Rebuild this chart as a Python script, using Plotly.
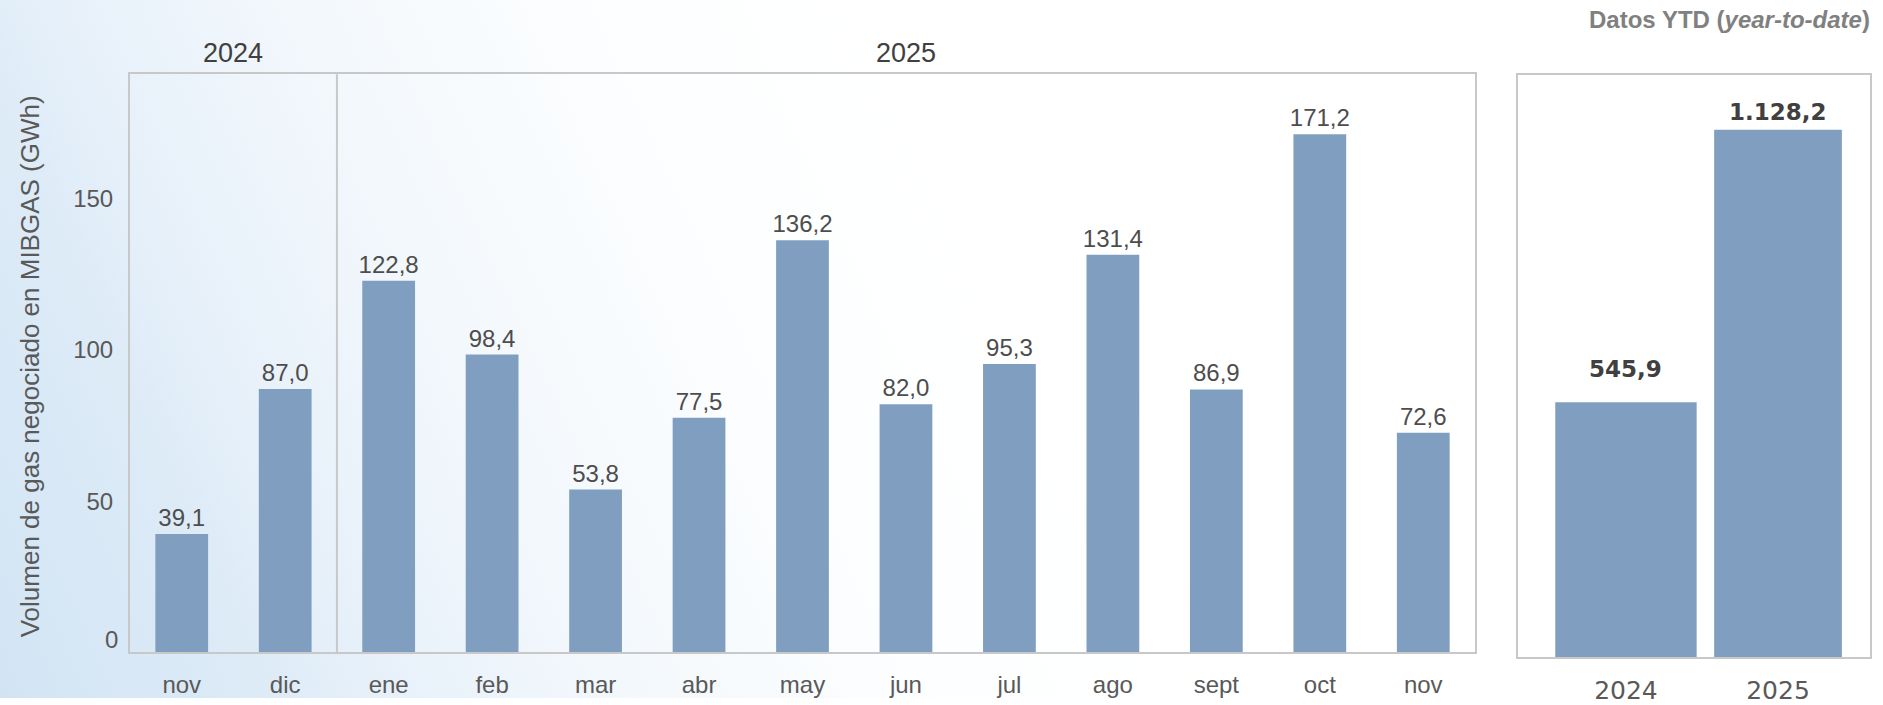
import base64
import plotly.graph_objects as go

# Monthly volume traded on MIBGAS (GWh)
months = ["nov", "dic", "ene", "feb", "mar", "abr", "may", "jun", "jul", "ago", "sept", "oct", "nov"]
month_values = [39.1, 87.0, 122.8, 98.4, 53.8, 77.5, 136.2, 82.0, 95.3, 131.4, 86.9, 171.2, 72.6]
year_groups = ["2024", "2025"]
year_group_centers = [0.5, 7]

# YTD totals
ytd_years = ["2024", "2025"]
ytd_values = [545.9, 1128.2]

y_ticks = [50, 100, 150]


def es_num(v):
    # spanish format: 1.128,2
    return f"{v:,.1f}".replace(",", "X").replace(".", ",").replace("X", ".")


W, H = 1883, 705
BAR = "#809fc0"
GRID = "#c8c8c8"
TXT = "#595959"
FONT = "Liberation Sans, Arial, sans-serif"
FONT2 = "DejaVu Sans, Verdana, sans-serif"

# background gradient (light blue bottom-left fading to white)
svg = f"""<svg xmlns='http://www.w3.org/2000/svg' width='{W}' height='{H}'>
<defs><linearGradient id='g' gradientUnits='userSpaceOnUse' x1='0' y1='{H}' x2='1100' y2='200'>
<stop offset='0' stop-color='#d2e4f4'/><stop offset='0.2' stop-color='#ddebf7'/>
<stop offset='0.3' stop-color='#e8f1fa'/><stop offset='0.47' stop-color='#f3f8fc'/>
<stop offset='0.7' stop-color='#fdfeff'/><stop offset='1' stop-color='#ffffff'/>
</linearGradient></defs><rect width='{W}' height='{H}' fill='url(#g)'/></svg>"""
bg_src = "data:image/svg+xml;base64," + base64.b64encode(svg.encode()).decode()

fig = go.Figure()

fig.add_trace(go.Bar(
    x=list(range(len(months))), y=month_values,
    marker=dict(color=BAR, line=dict(width=0)),
    width=0.51,
    text=[es_num(v) for v in month_values], textposition="outside",
    textfont=dict(family=FONT, size=24, color="#4d4d4d"),
    constraintext="none",
    cliponaxis=False, xaxis="x", yaxis="y", hoverinfo="skip",
))

fig.add_trace(go.Bar(
    x=[0, 1], y=ytd_values,
    marker=dict(color=BAR, line=dict(width=0)),
    width=[0.93, 0.84],
    xaxis="x2", yaxis="y2", hoverinfo="skip",
))

# main panel: 130..1475 px, 75..659 px
fig.update_layout(
    width=W, height=H,
    margin=dict(l=0, r=0, t=0, b=0),
    paper_bgcolor="white", plot_bgcolor="rgba(0,0,0,0)",
    showlegend=False,
    xaxis=dict(
        domain=[130 / W, 1475 / W], range=[-0.5, 12.5],
        tickvals=list(range(len(months))), ticktext=months,
        tickfont=dict(family=FONT, size=24, color=TXT),
        showline=True, mirror=True, linecolor=GRID, linewidth=2,
        showgrid=False, zeroline=False, ticks="", ticklabelstandoff=10,
        fixedrange=True,
    ),
    yaxis=dict(
        domain=[1 - 659 / H, 1 - 75 / H], range=[0, 191],
        tickvals=y_ticks, tickfont=dict(family=FONT, size=24, color=TXT),
        showline=True, mirror=True, linecolor=GRID, linewidth=2,
        showgrid=False, zeroline=False, ticks="", ticklabelstandoff=10,
        fixedrange=True,
    ),
    xaxis2=dict(
        domain=[1518 / W, 1870 / W], range=[-0.71, 1.605], anchor="y2",
        tickvals=[0, 1], ticktext=ytd_years,
        tickfont=dict(family=FONT2, size=25, color=TXT),
        showline=True, mirror=True, linecolor=GRID, linewidth=2,
        showgrid=False, zeroline=False, ticks="", ticklabelstandoff=10,
        fixedrange=True,
    ),
    yaxis2=dict(
        domain=[1 - 664 / H, 1 - 76 / H], range=[0, 1245], anchor="x2",
        showticklabels=False,
        showline=True, mirror=True, linecolor=GRID, linewidth=2,
        showgrid=False, zeroline=False, ticks="",
        fixedrange=True,
    ),
    images=[dict(source=bg_src, xref="paper", yref="paper", x=0, y=1,
                 sizex=1, sizey=1, sizing="stretch", layer="below")],
)

# 2024 / 2025 divider
fig.add_shape(type="line", xref="x", yref="y domain", x0=1.5, x1=1.5, y0=0, y1=1,
              line=dict(color=GRID, width=2))

# zero label sits a bit above the axis line
fig.add_annotation(text="0", x=0, xref="x domain", y=0, yref="y", xanchor="right",
                   xshift=-10, yshift=13, showarrow=False,
                   font=dict(family=FONT, size=24, color=TXT))

# YTD value labels
for i, v in enumerate(ytd_values):
    fig.add_annotation(text=es_num(v), x=i, y=v, xref="x2", yref="y2",
                       yanchor="bottom", yshift=[18, 3][i], showarrow=False,
                       font=dict(family=FONT2, size=23, color="#404040", weight="bold"))

for name, cx in zip(year_groups, year_group_centers):
    fig.add_annotation(text=name, x=cx, xref="x", y=1 - 54 / H, yref="paper",
                       showarrow=False, yanchor="middle",
                       font=dict(family=FONT, size=27, color="#404040"))

fig.add_annotation(text="Volumen de gas negociado en MIBGAS (GWh)", textangle=-90,
                   x=30 / W, y=1 - 370 / H, xref="paper", yref="paper",
                   xanchor="center", yanchor="middle",
                   showarrow=False, font=dict(family=FONT, size=26, color=TXT))

fig.add_annotation(text="<b>Datos YTD (<i>year-to-date</i>)</b>",
                   x=1872 / W, y=1 - 20 / H, xref="paper", yref="paper",
                   xanchor="right", yanchor="middle", showarrow=False,
                   font=dict(family=FONT, size=24, color="#808080"))

fig.write_html("out.html", config={"displayModeBar": False},
               post_script="document.body.style.margin='0';document.body.style.overflow='hidden';")
